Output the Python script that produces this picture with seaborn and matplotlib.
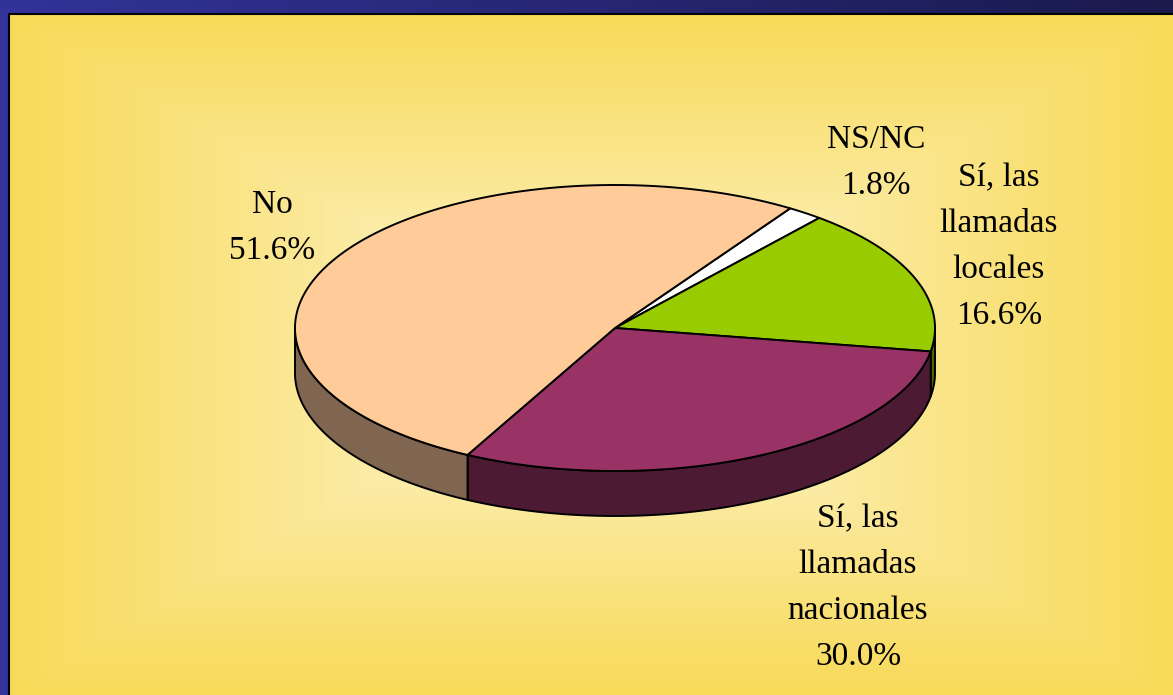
import numpy as np
import matplotlib
matplotlib.use("Agg")
import matplotlib.pyplot as plt
from matplotlib.patches import Polygon, Rectangle
from matplotlib.colors import to_rgb
import seaborn as sns

# data, clockwise from the top-right start angle
labels = ["NS/NC", "Sí, las\nllamadas\nlocales", "Sí, las\nllamadas\nnacionales", "No"]
values = [1.8, 16.6, 30.0, 51.6]
top_colors = ["#FFFFFF", "#99CC00", "#993366", "#FFCC99"]
side_colors = ["#808080", "#4D6600", "#4D1A33", "#806650"]
label_pos = [(876, 163), (999, 247), (858, 588), (272, 228)]

sns.set_theme(style="white")
plt.rcParams['font.family'] = ['Liberation Serif', 'DejaVu Serif']

W, H = 1173, 695
fig = plt.figure(figsize=(W / 100, H / 100), dpi=100)
ax = fig.add_axes([0, 0, 1, 1])
ax.set_xlim(0, W)
ax.set_ylim(H, 0)
ax.axis("off")

# background: blue frame + yellow rectangular gradient panel
px0, py0 = 9, 14
gx = np.linspace(0, 1, W)
band = np.array([to_rgb("#333399")]) * (1 - gx[:, None]) + np.array([to_rgb("#1A1A4D")]) * gx[:, None]
ax.imshow(band[None, :, :], extent=(0, W, py0, 0), aspect="auto", zorder=0)
ax.add_patch(Rectangle((0, py0), px0, H - py0, color="#333399", zorder=0))

pw, ph = W - px0, H - py0
xx, yy = np.meshgrid(np.linspace(-1, 1, pw), np.linspace(-1, 1, ph))
t = np.clip(np.maximum(np.abs(xx), np.abs(yy)), 0, 1) ** 0.9
c_in, c_out = np.array(to_rgb("#FEF8DE")), np.array(to_rgb("#F8DA58"))
img = c_in * (1 - t[..., None]) + c_out * t[..., None]
ax.imshow(img, extent=(px0, W, H, py0), aspect="auto", zorder=0)
ax.plot([px0, px0, W], [H, py0, py0], color="black", lw=1.5, zorder=1)

# pie geometry
cx, cy, ra, rb, depth = 615, 328, 320, 143, 45
start = 56.8


def pt(ang, dz=0.0):
    r = np.radians(ang)
    return cx + ra * np.cos(r), cy - rb * np.sin(r) + dz


fracs = np.array(values) / np.sum(values) * 360.0
ends = start - np.concatenate([[0], np.cumsum(fracs)])
slices = [(ends[i + 1], ends[i]) for i in range(len(values))]  # (lo, hi) ccw

# side walls on the front half
for (lo, hi), sc in zip(slices, side_colors):
    for flo, fhi in [(-540, -360), (-180, 0), (180, 360)]:
        s, e = max(lo, flo), min(hi, fhi)
        if e <= s:
            continue
        angs = np.linspace(s, e, 120)
        top = [pt(a) for a in angs]
        bot = [pt(a, depth) for a in angs[::-1]]
        ax.add_patch(Polygon(top + bot, closed=True, facecolor=sc,
                             edgecolor="black", lw=1.4, zorder=2))

# top faces
for (lo, hi), tc in zip(slices, top_colors):
    angs = np.linspace(lo, hi, 300)
    verts = [(cx, cy)] + [pt(a) for a in angs]
    ax.add_patch(Polygon(verts, closed=True, facecolor=tc,
                         edgecolor="black", lw=1.4, zorder=3))

# labels
for lab, v, (lx, ly) in zip(labels, values, label_pos):
    ax.text(lx, ly, f"{lab}\n{v:.1f}%", ha="center", va="center",
            multialignment="center", fontsize=24, linespacing=1.65,
            color="black", zorder=4)

fig.savefig("out.png", dpi=100)
